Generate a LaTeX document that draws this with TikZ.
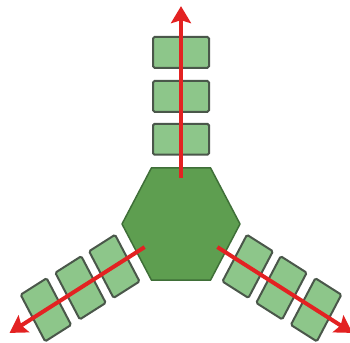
\documentclass[tikz,border=0pt]{standalone}
\usetikzlibrary{arrows.meta}
\definecolor{hexfill}{HTML}{5E9E50}
\definecolor{hexdraw}{HTML}{3F6F38}
\definecolor{boxfill}{HTML}{8DC68A}
\definecolor{boxdraw}{HTML}{4A574A}
\definecolor{arr}{HTML}{E32222}
\tikzset{
  hexstyle/.style={fill=hexfill,draw=hexdraw,line width=1.5pt,line join=round},
  boxstyle/.style={fill=boxfill,draw=boxdraw,line width=2pt,rounded corners=1.5pt},
  arrowstyle/.style={draw=arr,line width=4pt,-{Stealth[length=17pt,width=20pt,inset=3pt]}}
}
\begin{document}
\begin{tikzpicture}[x=1pt,y=-1pt]
\useasboundingbox[fill=white] (0,0) rectangle (350,342);
\begin{scope}[shift={(181,224)}, yscale=1.1]
  \draw[hexstyle] (0:59) -- (60:59) -- (120:59) -- (180:59) -- (240:59) -- (300:59) -- cycle;
  \foreach \a/\t/\l in {90/14/28, 210/15/24.5, 330/15/24.5}{
    \begin{scope}[rotate=\a]
      \foreach \d in {77,116,156}{
        \draw[boxstyle] (\d-\t,-\l) rectangle (\d+\t,\l);
      }
      \coordinate (s\a) at (42,0);
      \coordinate (e\a) at (198,0);
    \end{scope}
  }
  \foreach \a in {90,210,330}{
    \draw[arrowstyle] (s\a) -- (e\a);
  }
\end{scope}
\end{tikzpicture}
\end{document}
